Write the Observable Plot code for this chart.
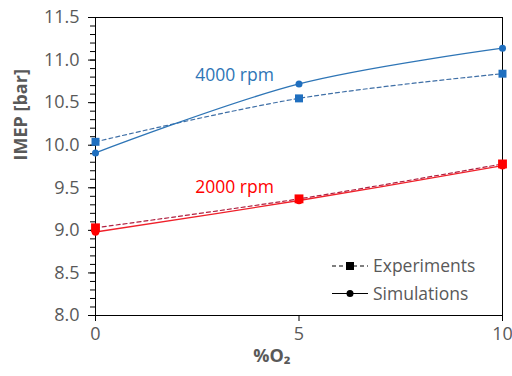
<!DOCTYPE html>
<html>
<head>
<meta charset="utf-8">
<script src="https://cdn.jsdelivr.net/npm/d3@7"></script>
<script src="https://cdn.jsdelivr.net/npm/@observablehq/plot@0.6"></script>
<style>
  html, body { margin: 0; padding: 0; background: #fff; }
  #chart { width: 512px; height: 376px; }
</style>
</head>
<body>
<div id="chart"></div>
<script>
// ---- data ----
const o2 = [0, 5, 10];
const exp4000 = [10.04, 10.55, 10.84];
const sim4000 = [9.91, 10.72, 11.14];
const exp2000 = [9.03, 9.37, 9.78];
const sim2000 = [8.98, 9.35, 9.76];

const yMajorTicks = [8.0, 8.5, 9.0, 9.5, 10.0, 10.5, 11.0, 11.5];
const yMinorTicks = d3.range(80, 116).map(d => d / 10);
const xTicks = [0, 5, 10];

const labelText = ["4000 rpm", "2000 rpm"];
const labelX = [2.45, 2.45];
const labelY = [10.82, 9.50];
const labelColor = ["#2e75b6", "#ff0000"];

const legendLabels = ["Experiments", "Simulations"];

const blue = "#2e75b6";
const blueMark = "#1f6fbf";
const red = "#f0202a";
const redMark = "#ff0000";

const pts = (ys) => o2.map((x, i) => ({x, y: ys[i]}));
const e4 = pts(exp4000), s4 = pts(sim4000), e2 = pts(exp2000), s2 = pts(sim2000);
const labels = labelText.map((t, i) => ({t, x: labelX[i], y: labelY[i], c: labelColor[i]}));

const font = "'Open Sans', sans-serif";
const gray = "#595959";

const chart = Plot.plot({
  width: 512,
  height: 376,
  marginLeft: 95,
  marginRight: 10,
  marginTop: 17,
  marginBottom: 61,
  style: {fontFamily: font, fontSize: "17px", color: gray, background: "#fff"},
  x: {domain: [0, 10]},
  y: {domain: [8, 11.5]},
  marks: [
    Plot.frame({stroke: "#000", strokeWidth: 1}),
    Plot.axisY(yMinorTicks, {tickSize: 5, text: null, stroke: "#000", label: null}),
    Plot.axisY(yMajorTicks, {tickSize: 7, tickPadding: 9, tickFormat: d => d.toFixed(1), stroke: "#000", fill: gray, fontSize: 18, label: null}),
    Plot.axisX(xTicks, {tickSize: 6, tickPadding: 6, stroke: "#000", fill: gray, fontSize: 18, label: null}),
    Plot.line(e4, {x: "x", y: "y", stroke: "#3f6fa6", strokeWidth: 1.2, strokeDasharray: "4,3", curve: "catmull-rom"}),
    Plot.line(s4, {x: "x", y: "y", stroke: blue, strokeWidth: 1.4, curve: "catmull-rom"}),
    Plot.line(e2, {x: "x", y: "y", stroke: "#b02040", strokeWidth: 1.2, strokeDasharray: "4,3", curve: "catmull-rom"}),
    Plot.line(s2, {x: "x", y: "y", stroke: red, strokeWidth: 1.4, curve: "catmull-rom"}),
    Plot.dot(e4, {x: "x", y: "y", symbol: "square", r: 4.5, fill: blueMark}),
    Plot.dot(s4, {x: "x", y: "y", symbol: "circle", r: 3.5, fill: blueMark}),
    Plot.dot(e2, {x: "x", y: "y", symbol: "square", r: 5, fill: redMark}),
    Plot.dot(s2, {x: "x", y: "y", symbol: "circle", r: 3.8, fill: redMark}),
    Plot.text(labels, {x: "x", y: "y", text: "t", fill: "c", textAnchor: "start", fontSize: 17.5}),
    Plot.text(["%O₂"], {frameAnchor: "bottom", dx: -27, dy: 46, fontWeight: "bold", fontSize: 18, fill: gray}),
    Plot.text(["IMEP [bar]"], {frameAnchor: "left", dx: -74, dy: -6, rotate: -90, fontWeight: "bold", fontSize: 18, fill: gray})
  ]
});

document.getElementById("chart").appendChild(chart);

// legend inside plot area (bottom-right)
const svg = d3.select(chart);
const right = 512 - 10;
const g = svg.append("g")
  .attr("font-family", font).attr("font-size", 17.5)
  .attr("text-anchor", "start");
legendLabels.forEach((lab, i) => {
  const y = 266 + i * 27.5;
  const x0 = right - 170, x1 = right - 134, xm = right - 152;
  g.append("line").attr("x1", x0).attr("x2", x1).attr("y1", y).attr("y2", y)
    .attr("stroke", "#000").attr("stroke-width", 1.2)
    .attr("stroke-dasharray", i === 0 ? "4,3" : null);
  if (i === 0) {
    g.append("rect").attr("x", xm - 4).attr("y", y - 4).attr("width", 8).attr("height", 8).attr("fill", "#000");
  } else {
    g.append("circle").attr("cx", xm).attr("cy", y).attr("r", 3.5).attr("fill", "#000");
  }
  g.append("text").attr("x", right - 129).attr("y", y).attr("dy", "0.35em")
    .attr("fill", gray).attr("stroke", "none").text(lab);
});
</script>
</body>
</html>
